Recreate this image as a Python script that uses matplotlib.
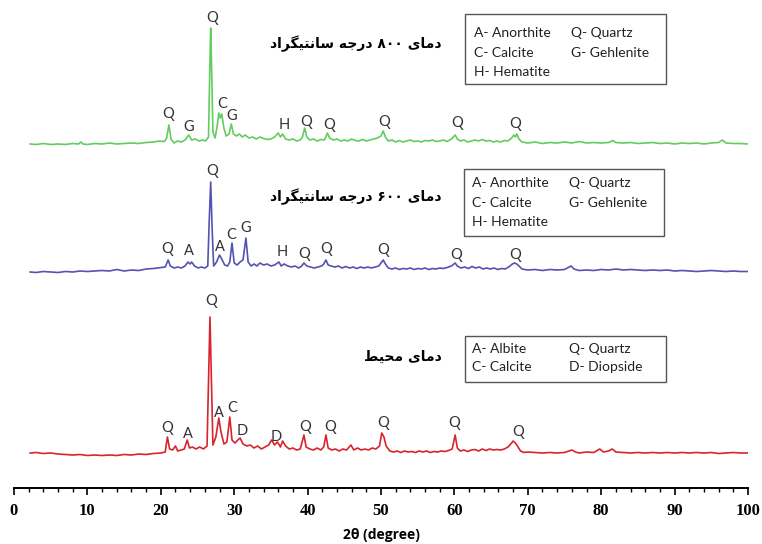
import matplotlib.pyplot as plt
from matplotlib.patches import Rectangle

# XRD patterns: (2theta, intensity above each trace's reference line)
green_800 = [
    (2.2, 2), (3, 1.5), (4, 2.5), (5, 1.5), (6, 2), (7, 1.5), (8, 2.5), (8.8, 2), (9.1, 4), (9.4, 2),
    (10, 1.5), (11, 2.5), (12, 2), (13, 3), (14, 2), (15, 2.5), (16, 3), (17, 2.5), (18, 3.5), (19, 4),
    (19.8, 5), (20.5, 4.5), (20.8, 8), (21.1, 21), (21.4, 7), (21.8, 3), (22.3, 5), (22.8, 4), (23.3, 6),
    (23.8, 11), (24.2, 6), (24.7, 7), (25.2, 5), (25.7, 6), (26.1, 5), (26.5, 9), (26.7, 86), (26.8, 118),
    (26.9, 86), (27.1, 14), (27.4, 8), (27.7, 21), (27.9, 33), (28.1, 28), (28.3, 32), (28.6, 18),
    (28.9, 10), (29.3, 12), (29.6, 22), (29.9, 12), (30.3, 10), (30.7, 12), (31.1, 9), (31.5, 11),
    (32, 8), (32.5, 9), (33, 7), (33.5, 9), (34, 7.5), (34.5, 6.5), (35, 7), (35.5, 9), (36, 13),
    (36.3, 9), (36.6, 12), (37, 7), (37.5, 6), (38, 7), (38.5, 5), (39, 6), (39.3, 9), (39.6, 18),
    (39.9, 9), (40.3, 6), (40.8, 7), (41.3, 5), (41.8, 6.5), (42.3, 6), (42.7, 13), (43, 8), (43.5, 6),
    (44, 7), (44.5, 5), (45, 6), (45.5, 5), (46, 7), (46.5, 5.5), (47, 5), (47.5, 6.5), (48, 5),
    (48.5, 6), (49, 7), (49.5, 8), (50, 10), (50.3, 15), (50.6, 9), (51, 5), (51.5, 6), (52, 4),
    (52.5, 5.5), (53, 4), (53.5, 5), (54, 6), (54.5, 4.5), (55, 5), (55.5, 4), (56, 5.5), (56.5, 5),
    (57, 6), (57.5, 4.5), (58, 5), (58.5, 6), (59, 4.5), (59.6, 7), (60.1, 11), (60.4, 7), (60.8, 5),
    (61.3, 6), (61.8, 4), (62.3, 5), (62.8, 6), (63.3, 5), (63.8, 6.5), (64.3, 5), (64.8, 5.5), (65.3, 4),
    (65.8, 5), (66.3, 4), (66.8, 5.5), (67.3, 5), (67.8, 8), (68.1, 11), (68.3, 9), (68.5, 12), (68.8, 7),
    (69.2, 4), (70, 3), (71, 4), (72, 2.5), (73, 3.5), (74, 3), (75, 4), (76, 3), (77, 4.5), (78, 3),
    (79, 3.5), (80, 3), (81, 3.5), (81.6, 5.5), (82, 3.5), (83, 3), (84, 3.5), (85, 2.5), (86, 3),
    (87, 3.5), (88, 2.5), (89, 3), (90, 2), (91, 3), (92, 2.5), (93, 3), (94, 2), (95, 3), (96, 3.5),
    (96.5, 6), (97, 3), (98, 2.5), (99, 2.5), (100, 2),
]
blue_600 = [
    (2.2, 2), (3, 1.5), (4, 2.5), (5, 2), (6, 1.5), (7, 2.5), (8, 2), (9, 3), (10, 2.5), (11, 3),
    (12, 3.5), (13, 3), (14, 4.5), (15, 3), (16, 4), (17, 3.5), (18, 5), (19, 5.5), (20, 6.5), (20.6, 7),
    (21.0, 14), (21.3, 8), (21.8, 6), (22.3, 7), (22.8, 6), (23.3, 8), (23.7, 12), (24.0, 10), (24.2, 12),
    (24.6, 8), (25.1, 6), (25.5, 7), (26, 6), (26.4, 8), (26.6, 54), (26.8, 92), (27.0, 44), (27.2, 8),
    (27.6, 12), (28.0, 19), (28.3, 15), (28.7, 9), (29.1, 8), (29.4, 12), (29.7, 31), (30.0, 11),
    (30.4, 9), (30.8, 12), (31.2, 14), (31.6, 36), (31.9, 12), (32.3, 8), (32.7, 10), (33.1, 8),
    (33.5, 11), (34, 9), (34.5, 10), (35, 8), (35.5, 9), (36.1, 12), (36.4, 8), (36.8, 10), (37.3, 8),
    (37.8, 7), (38.3, 8), (38.8, 6), (39.2, 8), (39.5, 11), (39.9, 8), (40.4, 7), (40.9, 6), (41.4, 7),
    (41.9, 8), (42.2, 10), (42.5, 14), (42.8, 9), (43.2, 8), (43.7, 7), (44.2, 8), (44.7, 6), (45.2, 7.5),
    (45.7, 6), (46.2, 7), (46.7, 5.5), (47.2, 7), (47.7, 6), (48.2, 7), (48.7, 6), (49.2, 7), (49.7, 8),
    (50.0, 11), (50.3, 14), (50.6, 10), (51, 6), (51.5, 5), (52, 6), (52.5, 4.5), (53, 5.5), (53.5, 5),
    (54, 6), (54.5, 4.5), (55, 5.5), (55.5, 5), (56, 6), (56.5, 4.5), (57, 5.5), (57.5, 5), (58, 6),
    (58.5, 5.5), (59, 6.5), (59.6, 8), (60.1, 11), (60.4, 8), (60.9, 6), (61.4, 7), (61.9, 5.5),
    (62.4, 7.5), (62.9, 6), (63.4, 7), (63.9, 5), (64.4, 6), (64.9, 5), (65.4, 6), (65.9, 4.5),
    (66.4, 5.5), (66.9, 5), (67.4, 7), (67.9, 10), (68.2, 11), (68.5, 10), (68.8, 8), (69.2, 5), (70, 4),
    (71, 4.5), (72, 3.5), (73, 4.5), (74, 4), (75, 4.5), (75.9, 8), (76.3, 5), (77, 3.5), (78, 4),
    (79, 3.5), (80, 4.5), (81, 4), (82, 5), (83, 4), (84, 4.5), (85, 4), (86, 3.5), (87, 4), (88, 3.5),
    (89, 4), (90, 3), (91, 3.5), (92, 3), (93, 2.5), (94, 3), (95, 3.5), (96, 3), (97, 2.5), (98, 3),
    (99, 2.5), (100, 2.5),
]
red_ambient = [
    (2.2, 4), (3, 4.5), (4, 3.5), (5, 4), (6, 3), (7, 2.5), (8, 2), (9, 2.5), (10, 1.5), (11, 2),
    (12, 1.5), (13, 2), (14, 1.5), (15, 2.5), (16, 2), (17, 3), (18, 2.5), (19, 3.5), (20, 4), (20.6, 5),
    (20.9, 20), (21.2, 8), (21.6, 7), (22.0, 11), (22.3, 6), (22.8, 7), (23.2, 8), (23.6, 17), (23.9, 9),
    (24.3, 10), (24.8, 8), (25.3, 10), (25.8, 8), (26.3, 11), (26.5, 77), (26.7, 140), (26.9, 77),
    (27.1, 12), (27.5, 20), (27.9, 39), (28.2, 25), (28.6, 13), (29.0, 15), (29.4, 40), (29.7, 17),
    (30.1, 14), (30.5, 17), (30.8, 19), (31.2, 13), (31.7, 11), (32.2, 12), (32.7, 9), (33.2, 11),
    (33.7, 8), (34.2, 10), (34.7, 12), (35.1, 17), (35.5, 12), (35.9, 15), (36.3, 10), (36.6, 16),
    (37, 11), (37.5, 8), (38, 9), (38.5, 7), (39, 8), (39.5, 22), (39.8, 10), (40.3, 8), (40.8, 7),
    (41.3, 9), (41.8, 7), (42.2, 10), (42.5, 22), (42.8, 9), (43.3, 7), (43.8, 8), (44.3, 6), (44.8, 8),
    (45.3, 7), (45.9, 12), (46.3, 7), (46.8, 9), (47.3, 7), (47.8, 8), (48.3, 7), (48.8, 9), (49.3, 8),
    (49.8, 11), (50.1, 24), (50.4, 20), (50.7, 11), (51.2, 6), (51.7, 5), (52.2, 6), (52.7, 4.5),
    (53.2, 6), (53.7, 5), (54.2, 5.5), (54.7, 4.5), (55.2, 6), (55.7, 5), (56.2, 6), (56.7, 4.5),
    (57.2, 5.5), (57.7, 5), (58.2, 6), (58.7, 5.5), (59.2, 6.5), (59.7, 8), (60.1, 22), (60.4, 9),
    (60.8, 6), (61.3, 7), (61.8, 5.5), (62.3, 7), (62.8, 7.5), (63.3, 6), (63.8, 8), (64.3, 6.5),
    (64.8, 8), (65.3, 7), (65.8, 7.5), (66.3, 7), (66.8, 8), (67.3, 10), (67.8, 14), (68.0, 16),
    (68.3, 14), (68.6, 11), (69, 6), (69.5, 4.5), (70, 5), (71, 4.5), (72, 4), (73, 4.5), (74, 4),
    (75, 4.5), (76, 7), (76.5, 5), (77, 4), (78, 5), (79, 4.5), (79.8, 8), (80.3, 5), (81, 6), (81.5, 8),
    (82, 5), (83, 4.5), (84, 4), (85, 4.5), (86, 4), (87, 4.5), (88, 4), (89, 4.5), (90, 4), (91, 4.5),
    (92, 4), (93, 4.5), (94, 4), (95, 4.5), (96, 3.5), (97, 4), (98, 4.5), (99, 4), (100, 4),
]

# phase labels: (letter, 2theta, height of label above reference line)
green_labels = [("Q", 21.0, 32), ("G", 23.8, 19), ("Q", 27.0, 128), ("C", 28.3, 42), ("G", 29.7, 30),
                ("H", 36.8, 21), ("Q", 39.8, 24), ("Q", 42.9, 21), ("Q", 50.4, 24), ("Q", 60.4, 23),
                ("Q", 68.3, 22)]
blue_labels = [("Q", 20.8, 25), ("A", 23.8, 23), ("Q", 27.0, 103), ("A", 28.1, 27), ("C", 29.6, 39),
               ("G", 31.6, 46), ("H", 36.5, 22), ("Q", 39.5, 20), ("Q", 42.5, 25), ("Q", 50.3, 24),
               ("Q", 60.2, 19), ("Q", 68.3, 19)]
red_labels = [("Q", 26.8, 156), ("Q", 20.8, 29), ("A", 23.7, 23), ("A", 27.9, 44), ("C", 29.7, 49),
              ("D", 31.1, 26), ("D", 35.7, 20), ("Q", 39.6, 30), ("Q", 43.1, 30), ("Q", 50.3, 34),
              ("Q", 59.9, 34), ("Q", 68.7, 25)]

# vertical offsets of the stacked patterns
offsets = [342, 214, 31]
colors = ["#62cc5e", "#5552b0", "#d8242c"]

# Persian captions, written in visual (presentation form) order
title_800 = ("\uFEA9\uFE8D\uFEAE\uFB95\uFBFF\uFE98\uFEE7\uFE8E\uFEB3 "
             "\uFEEA\uFE9F\uFEAD\uFEA9 \u06F8\u06F0\u06F0 \uFBFC\uFE8E\uFEE3\uFEA9")
title_600 = ("\uFEA9\uFE8D\uFEAE\uFB95\uFBFF\uFE98\uFEE7\uFE8E\uFEB3 "
             "\uFEEA\uFE9F\uFEAD\uFEA9 \u06F6\u06F0\u06F0 \uFBFC\uFE8E\uFEE3\uFEA9")
title_amb = "\uFEC2\uFBFF\uFEA4\uFEE3 \uFBFC\uFE8E\uFEE3\uFEA9"

legend_800 = [["A- Anorthite", "Q- Quartz"], ["C- Calcite", "G- Gehlenite"], ["H- Hematite", ""]]
legend_600 = [["A- Anorthite", "Q- Quartz"], ["C- Calcite", "G- Gehlenite"], ["H- Hematite", ""]]
legend_amb = [["A- Albite", "Q- Quartz"], ["C- Calcite", "D- Diopside"]]

W, H = 762, 544
fig = plt.figure(figsize=(W / 100, H / 100), dpi=100)
ax = fig.add_axes([14 / W, 1 - 488 / H, 734 / W, 488 / H])

patterns = [green_800, blue_600, red_ambient]
label_sets = [green_labels, blue_labels, red_labels]
for data, labels, off, col in zip(patterns, label_sets, offsets, colors):
    xs = [p[0] for p in data]
    ys = [p[1] + off for p in data]
    ax.plot(xs, ys, color=col, lw=1.2)
    for letter, x, h in labels:
        ax.text(x, off + h, letter, ha="center", va="center", fontsize=10.5,
                family="Lato", color="#333333")

ax.set_xlim(0, 100)
ax.set_ylim(0, 488)
ax.set_yticks([])
for s in ["left", "right", "top"]:
    ax.spines[s].set_visible(False)
ax.spines["bottom"].set_linewidth(1.4)
ax.set_xticks(range(0, 101, 10))
ax.set_xticks(range(0, 101, 2), minor=True)
ax.tick_params(axis="x", which="major", length=5, width=1.2, pad=6)
ax.tick_params(axis="x", which="minor", length=3, width=1.0)
for lab in ax.get_xticklabels():
    lab.set_fontfamily("Liberation Serif")
    lab.set_fontweight("bold")
    lab.set_fontsize(12)
ax.set_xlabel("2\u03b8 (degree)", fontsize=10, fontweight="bold", family="Open Sans", labelpad=6)


def px(x, y):
    return x / W, 1 - y / H


# Persian captions
for txt, y in [(title_800, 44), (title_600, 197), (title_amb, 357)]:
    fx, fy = px(442, y)
    fig.text(fx, fy, txt, ha="right", va="center", fontsize=10, fontweight="bold",
             family="DejaVu Sans")

# legend boxes
boxes = [(legend_800, 465, 666, 14, 84, [33, 53, 72], 474, 571),
         (legend_600, 464, 664, 169, 236, [183, 203, 222], 472, 569),
         (legend_amb, 465, 666, 336, 382, [349, 367], 472, 569)]
for rows, x0, x1, y0, y1, line_y, c1, c2 in boxes:
    bx, by = px(x0, y1)
    fig.patches.append(Rectangle((bx, by), (x1 - x0) / W, (y1 - y0) / H, transform=fig.transFigure,
                                 fill=False, edgecolor="#555555", lw=1.0))
    for row, ly in zip(rows, line_y):
        for txt, cx in zip(row, [c1, c2]):
            fx, fy = px(cx, ly)
            fig.text(fx, fy, txt, ha="left", va="center", fontsize=10, family="Lato", color="#222222")

fig.savefig("out.png", dpi=100)
